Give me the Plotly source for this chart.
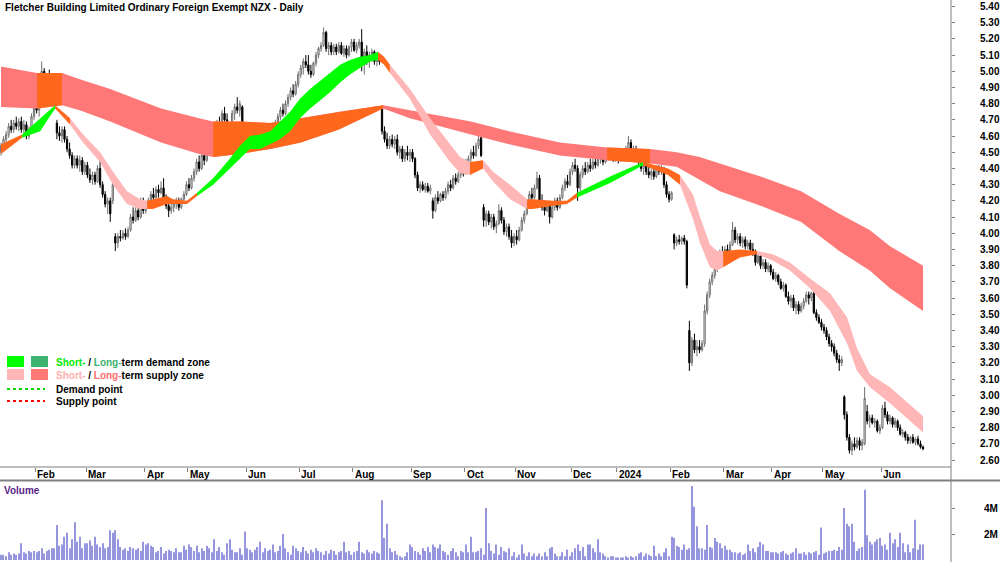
import plotly.graph_objects as go

title_text = "Fletcher Building Limited Ordinary Foreign Exempt NZX - Daily"
month_labels = ["Feb", "Mar", "Apr", "May", "Jun", "Jul", "Aug", "Sep", "Oct", "Nov", "Dec",
                "2024", "Feb", "Mar", "Apr", "May", "Jun"]
month_start = [14, 34, 57, 74, 97, 118, 139, 162, 183, 203, 225, 243, 264, 285, 304, 324, 347]
price_ticks = [round(2.6 + 0.1 * k, 2) for k in range(29)]
vol_ticks = [2, 4]
vol_tick_text = ["2M", "4M"]

opens = [
 4.50,4.54,4.58,4.61,4.66,4.64,4.68,4.66,4.69,4.64, 4.67,4.60,4.64,4.72,4.84,4.76,4.84,5.00,4.88,4.95,
 4.90,4.96,4.68,4.62,4.60,4.64,4.58,4.52,4.48,4.42, 4.46,4.42,4.45,4.38,4.42,4.36,4.33,4.36,4.32,4.40,
 4.30,4.24,4.18,4.20,4.20,3.98,3.94,3.98,3.97,4.00, 3.98,4.02,4.10,4.08,4.14,4.10,4.20,4.14,4.18,4.20,
 4.24,4.22,4.27,4.25,4.28,4.22,4.17,4.14,4.16,4.18, 4.20,4.16,4.21,4.24,4.30,4.28,4.34,4.38,4.44,4.40,
 4.48,4.45,4.53,4.60,4.57,4.64,4.68,4.66,4.74,4.70, 4.58,4.64,4.74,4.78,4.76,4.78,4.64,4.60,4.63,4.58,
 4.62,4.60,4.57,4.54,4.58,4.53,4.62,4.65,4.62,4.68, 4.72,4.76,4.74,4.80,4.84,4.88,4.86,4.92,4.98,5.02,
 5.06,5.04,5.00,4.98,5.05,5.10,5.14,5.16,5.24,5.14, 5.16,5.12,5.15,5.12,5.16,5.11,5.14,5.10,5.15,5.18,
 5.13,5.16,5.18,5.04,5.12,5.06,5.10,5.12,5.06,5.08, 4.78,4.63,4.58,4.54,4.58,4.55,4.58,4.50,4.52,4.46,
 4.50,4.48,4.50,4.46,4.36,4.28,4.30,4.27,4.29,4.26, 4.20,4.14,4.22,4.20,4.24,4.22,4.26,4.30,4.28,4.34,
 4.32,4.36,4.40,4.37,4.44,4.46,4.50,4.48,4.54,4.59, 4.16,4.08,4.12,4.07,4.10,4.04,4.06,4.14,4.08,4.01,
 4.04,3.98,3.94,3.98,3.96,4.02,4.08,4.12,4.18,4.24, 4.22,4.28,4.34,4.20,4.16,4.14,4.18,4.10,4.16,4.20,
 4.16,4.22,4.28,4.32,4.30,4.38,4.42,4.40,4.28,4.36, 4.40,4.38,4.42,4.40,4.44,4.42,4.46,4.48,4.44,4.48,
 4.46,4.50,4.46,4.48,4.45,4.49,4.47,4.52,4.56,4.50, 4.52,4.48,4.44,4.40,4.42,4.38,4.36,4.38,4.35,4.40,
 4.38,4.40,4.30,4.24,4.21,3.99,3.94,3.96,3.95,3.97, 3.95,3.40,3.20,3.34,3.28,3.30,3.28,3.32,3.52,3.62,
 3.70,3.74,3.78,3.84,3.88,3.86,3.90,3.88,3.93,4.02, 3.96,3.98,3.94,3.96,3.92,3.94,3.90,3.88,3.82,3.86,
 3.80,3.82,3.78,3.80,3.76,3.72,3.74,3.70,3.66,3.68, 3.61,3.58,3.60,3.54,3.56,3.52,3.55,3.58,3.62,3.60,
 3.63,3.51,3.48,3.45,3.42,3.40,3.36,3.32,3.30,3.26, 3.22,3.20,2.99,2.88,2.74,2.66,2.70,2.68,2.72,2.69,
 2.70,2.90,2.84,2.86,2.83,2.84,2.78,2.80,2.92,2.88, 2.84,2.86,2.82,2.84,2.80,2.76,2.77,2.74,2.72,2.74,
 2.71,2.73,2.70,2.68]

highs = [
 4.56,4.60,4.63,4.68,4.70,4.70,4.72,4.71,4.72,4.70, 4.69,4.66,4.74,4.80,4.86,4.84,5.06,5.02,4.98,5.01,
 4.98,4.98,4.70,4.66,4.66,4.66,4.60,4.56,4.50,4.48, 4.48,4.48,4.47,4.44,4.44,4.40,4.38,4.38,4.42,4.48,
 4.32,4.26,4.22,4.22,4.35,4.00,4.00,4.02,4.02,4.03, 4.04,4.12,4.16,4.16,4.18,4.22,4.22,4.20,4.22,4.26,
 4.28,4.29,4.30,4.32,4.34,4.24,4.20,4.19,4.20,4.22, 4.22,4.22,4.26,4.32,4.34,4.36,4.40,4.46,4.48,4.50,
 4.52,4.55,4.62,4.64,4.66,4.70,4.72,4.76,4.78,4.74, 4.66,4.76,4.80,4.84,4.82,4.79,4.68,4.66,4.66,4.64,
 4.66,4.64,4.60,4.60,4.60,4.64,4.67,4.68,4.70,4.74, 4.78,4.80,4.82,4.86,4.90,4.92,4.94,5.00,5.04,5.08,
 5.10,5.10,5.04,5.06,5.12,5.15,5.18,5.27,5.25,5.18, 5.18,5.17,5.17,5.18,5.18,5.16,5.16,5.16,5.20,5.20,
 5.18,5.20,5.26,5.14,5.16,5.12,5.14,5.13,5.10,5.10, 4.79,4.66,4.62,4.60,4.61,4.60,4.61,4.54,4.54,4.52,
 4.54,4.52,4.52,4.47,4.38,4.32,4.32,4.31,4.31,4.30, 4.22,4.24,4.26,4.25,4.26,4.28,4.32,4.33,4.36,4.37,
 4.38,4.42,4.44,4.46,4.48,4.52,4.54,4.56,4.60,4.60, 4.18,4.14,4.14,4.12,4.12,4.08,4.18,4.16,4.10,4.06,
 4.06,4.02,4.00,4.02,4.04,4.10,4.14,4.20,4.26,4.28, 4.30,4.38,4.36,4.24,4.20,4.20,4.20,4.18,4.22,4.22,
 4.24,4.30,4.34,4.36,4.40,4.44,4.46,4.42,4.38,4.42, 4.44,4.44,4.46,4.46,4.48,4.48,4.50,4.50,4.50,4.52,
 4.52,4.52,4.50,4.50,4.50,4.52,4.54,4.60,4.58,4.54, 4.54,4.50,4.46,4.44,4.44,4.42,4.40,4.40,4.42,4.42,
 4.42,4.41,4.32,4.26,4.26,4.00,3.98,3.99,3.98,3.99, 3.96,3.46,3.36,3.38,3.34,3.34,3.34,3.56,3.64,3.72,
 3.76,3.80,3.86,3.90,3.92,3.92,3.93,3.95,4.07,4.04, 4.00,4.00,3.98,3.98,3.96,3.96,3.94,3.90,3.88,3.88,
 3.84,3.84,3.82,3.81,3.78,3.76,3.75,3.72,3.70,3.69, 3.64,3.62,3.62,3.58,3.58,3.57,3.60,3.64,3.64,3.64,
 3.64,3.53,3.50,3.47,3.44,3.42,3.38,3.34,3.32,3.28, 3.25,3.24,3.00,2.90,2.76,2.72,2.74,2.74,2.74,2.73,
 3.05,2.94,2.88,2.88,2.86,2.85,2.82,2.94,2.96,2.90, 2.88,2.87,2.86,2.85,2.82,2.79,2.78,2.76,2.75,2.76,
 2.74,2.75,2.72,2.69]

lows = [
 4.48,4.52,4.55,4.59,4.62,4.62,4.64,4.63,4.62,4.61, 4.58,4.58,4.63,4.70,4.74,4.72,4.82,4.85,4.80,4.88,
 4.88,4.92,4.58,4.57,4.56,4.56,4.50,4.46,4.40,4.40, 4.40,4.38,4.36,4.36,4.34,4.31,4.30,4.30,4.31,4.28,
 4.22,4.16,4.12,4.07,4.18,3.89,3.91,3.95,3.96,3.96, 3.97,4.01,4.06,4.07,4.08,4.09,4.12,4.12,4.15,4.18,
 4.20,4.21,4.22,4.24,4.20,4.15,4.10,4.12,4.13,4.15, 4.14,4.15,4.19,4.23,4.26,4.27,4.32,4.36,4.38,4.39,
 4.42,4.44,4.52,4.54,4.56,4.62,4.63,4.65,4.68,4.56, 4.56,4.63,4.70,4.74,4.72,4.62,4.58,4.57,4.56,4.56,
 4.58,4.55,4.52,4.52,4.52,4.52,4.58,4.60,4.61,4.66, 4.70,4.72,4.73,4.78,4.82,4.84,4.85,4.90,4.96,4.98,
 5.02,4.98,4.96,4.97,5.03,5.08,5.12,5.15,5.12,5.10, 5.10,5.10,5.10,5.11,5.10,5.09,5.08,5.09,5.12,5.12,
 5.11,5.14,5.00,4.98,5.04,5.02,5.06,5.04,5.03,5.04, 4.61,4.56,4.52,4.52,4.53,4.52,4.48,4.46,4.44,4.44,
 4.45,4.44,4.44,4.34,4.26,4.25,4.26,4.25,4.25,4.24, 4.09,4.13,4.18,4.19,4.20,4.21,4.24,4.26,4.27,4.30,
 4.31,4.34,4.35,4.36,4.40,4.44,4.46,4.47,4.52,4.47, 4.04,4.04,4.05,4.03,4.02,4.00,4.05,4.06,3.99,3.98,
 3.96,3.91,3.92,3.93,3.95,4.01,4.06,4.11,4.16,4.20, 4.21,4.27,4.18,4.14,4.11,4.13,4.06,4.09,4.14,4.14,
 4.15,4.21,4.26,4.28,4.29,4.36,4.38,4.20,4.26,4.34, 4.36,4.37,4.38,4.39,4.40,4.41,4.43,4.42,4.43,4.45,
 4.45,4.44,4.44,4.43,4.44,4.45,4.46,4.50,4.48,4.46, 4.46,4.42,4.38,4.36,4.36,4.34,4.33,4.33,4.34,4.36,
 4.36,4.28,4.22,4.19,4.20,3.90,3.92,3.93,3.93,3.93, 3.66,3.15,3.18,3.26,3.24,3.26,3.27,3.30,3.50,3.60,
 3.68,3.72,3.76,3.82,3.84,3.85,3.86,3.87,3.92,3.94, 3.93,3.92,3.91,3.90,3.90,3.88,3.86,3.80,3.81,3.78,
 3.78,3.76,3.76,3.74,3.71,3.70,3.68,3.65,3.64,3.60, 3.56,3.54,3.52,3.50,3.50,3.51,3.53,3.57,3.56,3.58,
 3.50,3.46,3.44,3.40,3.38,3.34,3.30,3.27,3.24,3.20, 3.15,3.18,2.85,2.72,2.64,2.63,2.66,2.67,2.66,2.66,
 2.69,2.82,2.80,2.82,2.80,2.77,2.76,2.79,2.86,2.82, 2.82,2.80,2.80,2.78,2.75,2.74,2.72,2.70,2.70,2.70,
 2.69,2.69,2.67,2.66]

closes = [
 4.54,4.58,4.61,4.66,4.64,4.68,4.66,4.69,4.64,4.67, 4.60,4.64,4.72,4.78,4.76,4.82,5.00,4.88,4.95,4.90,
 4.96,4.95,4.62,4.60,4.64,4.58,4.52,4.48,4.42,4.46, 4.42,4.45,4.38,4.42,4.36,4.33,4.36,4.32,4.40,4.30,
 4.24,4.18,4.20,4.12,4.30,3.94,3.98,3.97,4.00,3.98, 4.02,4.10,4.08,4.14,4.10,4.20,4.14,4.18,4.20,4.24,
 4.22,4.27,4.25,4.28,4.22,4.17,4.14,4.16,4.18,4.20, 4.16,4.21,4.24,4.30,4.28,4.34,4.38,4.44,4.40,4.48,
 4.45,4.53,4.60,4.57,4.64,4.68,4.66,4.74,4.70,4.58, 4.64,4.74,4.78,4.76,4.80,4.64,4.60,4.63,4.58,4.62,
 4.60,4.57,4.54,4.58,4.53,4.62,4.65,4.62,4.68,4.72, 4.76,4.74,4.80,4.84,4.88,4.86,4.92,4.98,5.02,5.06,
 5.04,5.00,4.98,5.05,5.10,5.14,5.16,5.24,5.14,5.16, 5.12,5.15,5.12,5.16,5.11,5.14,5.10,5.15,5.18,5.13,
 5.16,5.18,5.04,5.12,5.06,5.10,5.12,5.06,5.08,5.06, 4.63,4.58,4.54,4.58,4.55,4.58,4.50,4.52,4.46,4.50,
 4.48,4.50,4.46,4.36,4.28,4.30,4.27,4.29,4.26,4.28, 4.14,4.22,4.20,4.24,4.22,4.26,4.30,4.28,4.34,4.32,
 4.36,4.40,4.37,4.44,4.46,4.50,4.48,4.54,4.58,4.48, 4.08,4.12,4.07,4.10,4.04,4.06,4.14,4.08,4.01,4.04,
 3.98,3.94,3.98,3.96,4.02,4.08,4.12,4.18,4.24,4.22, 4.28,4.34,4.20,4.16,4.14,4.18,4.10,4.16,4.20,4.16,
 4.22,4.28,4.32,4.30,4.38,4.42,4.40,4.28,4.36,4.40, 4.38,4.42,4.40,4.44,4.42,4.46,4.48,4.44,4.48,4.46,
 4.50,4.46,4.48,4.45,4.49,4.47,4.52,4.56,4.50,4.52, 4.48,4.44,4.40,4.42,4.38,4.36,4.38,4.35,4.40,4.38,
 4.40,4.30,4.24,4.21,4.25,3.94,3.96,3.95,3.97,3.95, 3.68,3.20,3.34,3.28,3.30,3.28,3.32,3.52,3.62,3.70,
 3.74,3.78,3.84,3.88,3.86,3.90,3.88,3.93,4.02,3.96, 3.98,3.94,3.96,3.92,3.94,3.90,3.88,3.82,3.86,3.80,
 3.82,3.78,3.80,3.76,3.72,3.74,3.70,3.66,3.68,3.61, 3.58,3.60,3.54,3.56,3.52,3.55,3.58,3.62,3.60,3.63,
 3.51,3.48,3.45,3.42,3.40,3.36,3.32,3.30,3.26,3.22, 3.20,3.22,2.88,2.74,2.66,2.70,2.68,2.72,2.69,2.71,
 2.98,2.84,2.86,2.83,2.84,2.78,2.80,2.92,2.88,2.84, 2.86,2.82,2.84,2.80,2.76,2.77,2.74,2.72,2.74,2.71,
 2.73,2.70,2.68,2.67]

volume_m = [
 0.4,0.4,0.3,0.6,0.4,0.5,0.4,0.5,1.3,0.6, 0.5,0.7,0.6,0.7,0.6,0.7,0.9,0.5,0.7,0.8,
 0.9,0.9,2.7,1.1,1.2,1.8,2.1,0.9,1.6,2.9, 1.4,1.8,0.9,1.3,1.3,1.5,1.1,1.8,1.2,1.0,
 1.3,0.9,1.0,2.3,2.1,2.3,1.6,1.0,0.8,0.9, 0.7,1.0,0.9,0.8,0.9,0.7,1.4,1.2,1.3,1.1,
 1.0,0.6,0.7,1.0,0.5,0.7,0.8,0.7,0.6,0.9, 0.6,0.6,1.1,0.8,1.2,1.0,0.7,1.1,0.6,0.9,
 0.7,1.1,0.9,0.6,1.6,0.7,1.0,0.6,0.4,1.3, 1.6,0.8,0.6,0.6,0.9,0.4,2.2,0.9,0.8,0.6,
 0.8,1.0,1.4,0.6,0.9,0.7,0.8,1.2,0.6,0.7, 1.1,2.0,0.9,0.6,0.4,1.1,0.9,0.7,0.6,1.0,
 0.7,0.5,0.8,0.6,0.9,0.7,0.6,0.4,0.7,0.5, 0.8,0.7,0.4,0.6,0.7,1.4,0.6,0.7,0.4,0.6,
 0.7,1.4,0.6,0.5,0.8,0.6,0.5,0.7,0.6,0.5, 4.6,1.7,2.8,0.9,0.6,0.7,0.4,0.3,0.2,0.3,
 0.6,1.2,1.0,0.7,0.6,0.4,0.9,0.7,1.0,0.6, 1.2,1.0,0.9,1.2,0.7,0.6,0.4,0.7,0.9,0.6,
 0.3,0.7,0.6,1.2,0.6,1.8,0.6,0.6,0.7,0.9, 0.4,4.0,1.3,0.7,0.5,1.2,0.4,1.0,0.7,0.6,
 0.9,0.3,0.6,0.2,0.4,1.2,0.5,0.3,0.6,0.3, 0.5,0.3,0.5,0.3,0.6,0.3,0.9,1.0,0.5,0.3,
 0.3,0.6,0.3,0.8,0.3,0.6,0.9,1.2,0.7,1.0, 0.3,1.2,1.2,0.9,0.6,1.6,0.6,0.5,0.3,0.2,
 0.3,0.3,0.2,0.2,0.2,0.2,0.3,0.2,0.3,0.2, 0.3,0.5,0.6,0.3,0.5,0.4,0.3,1.1,0.3,0.5,
 0.3,0.6,0.9,0.3,1.8,1.7,1.1,1.0,0.8,1.2, 0.8,0.9,5.7,4.1,2.6,0.9,0.9,0.8,2.7,1.0,
 0.9,1.7,1.4,1.3,0.9,1.1,0.8,0.8,0.6,0.6, 0.5,0.6,0.4,0.5,1.2,0.7,0.9,0.6,1.0,1.4,
 1.2,0.7,0.7,0.6,0.6,0.6,0.5,0.6,0.7,0.5, 0.4,0.5,0.6,0.9,0.5,0.5,0.6,0.4,0.6,0.5,
 0.6,0.7,0.4,2.5,0.5,0.6,0.7,0.7,0.8,0.7, 1.0,0.8,4.0,2.8,2.6,2.8,1.4,0.7,0.9,1.0,
 5.4,1.9,1.4,1.2,1.4,1.6,1.7,1.1,1.2,0.8, 2.1,1.3,1.6,1.0,2.1,1.3,0.6,1.2,0.6,0.9,
 3.1,0.8,1.2,1.2]

# Long-term zone band (bar index, upper price, lower price)
lt_x = [0, 14.2, 24, 31, 43, 63, 78, 83.5, 94, 106, 118, 133, 150.4, 161, 185, 200, 220,
        238.6, 255.5, 266, 275, 283, 299, 315, 330, 342, 350, 363]
lt_top = [5.03, 4.99, 4.99, 4.95, 4.89, 4.77, 4.71, 4.69, 4.69, 4.68, 4.71, 4.75, 4.79, 4.76,
          4.69, 4.63, 4.56, 4.53, 4.52, 4.50, 4.47, 4.43, 4.35, 4.26, 4.12, 4.02, 3.92, 3.80]
lt_bot = [4.78, 4.77, 4.79, 4.76, 4.69, 4.56, 4.49, 4.47, 4.49, 4.52, 4.56, 4.64, 4.77, 4.71,
          4.61, 4.55, 4.48, 4.45, 4.43, 4.41, 4.33, 4.26, 4.17, 4.07, 3.89, 3.77, 3.66, 3.52]
lt_seg_start = [0, 14.2, 83.5, 238.6]
lt_seg_end = [363, 24, 150.4, 255.5]
lt_seg_kind = ["supply", "overlap", "overlap", "overlap"]

# Short-term zone band
st_x = [0, 8.3, 15.4, 21.3, 27.2, 32.3, 39, 44.1, 49.6, 54.7, 57.5, 59.8, 65.4, 67.7, 73.2,
        77.2, 83.5, 89, 94.1, 98, 102, 106, 109.8, 113.8, 117.7, 121.7, 125.6, 129.5, 133.5,
        137.4, 141.3, 145.3, 148.4, 150.8, 153.1, 161, 168.9, 176.8, 180.7, 184.6, 189.8,
        193.7, 200.4, 207.1, 209.4, 217.3, 222.8, 226.8, 239.8, 252.8, 259.4, 262.6, 267.3,
        272.4, 275.2, 279.1, 281.9, 284.3, 290.9, 297.6, 303.9, 310.6, 318.5, 326.4, 333.1,
        337, 342.1, 350, 363]
st_top = [4.55, 4.61, 4.71, 4.79, 4.71, 4.61, 4.50, 4.38, 4.26, 4.21, 4.20, 4.21, 4.23, 4.21,
          4.20, 4.25, 4.34, 4.44, 4.54, 4.60, 4.61, 4.63, 4.69, 4.75, 4.83, 4.89, 4.94, 4.99,
          5.04, 5.07, 5.09, 5.10, 5.12, 5.09, 5.04, 4.89, 4.71, 4.55, 4.47, 4.44, 4.45, 4.38,
          4.30, 4.21, 4.21, 4.20, 4.20, 4.25, 4.35, 4.44, 4.41, 4.40, 4.36, 4.24, 4.10, 3.93,
          3.89, 3.89, 3.90, 3.89, 3.87, 3.82, 3.72, 3.63, 3.48, 3.29, 3.13, 3.05, 2.87]
st_bot = [4.49, 4.59, 4.63, 4.77, 4.67, 4.56, 4.44, 4.30, 4.18, 4.15, 4.15, 4.15, 4.18, 4.18,
          4.18, 4.23, 4.30, 4.38, 4.46, 4.52, 4.52, 4.55, 4.58, 4.63, 4.71, 4.77, 4.82, 4.87,
          4.93, 4.98, 5.02, 5.06, 5.07, 5.04, 4.99, 4.83, 4.61, 4.44, 4.37, 4.36, 4.40, 4.32,
          4.21, 4.15, 4.15, 4.17, 4.18, 4.22, 4.31, 4.42, 4.38, 4.36, 4.30, 4.09, 3.94, 3.79,
          3.77, 3.79, 3.85, 3.87, 3.83, 3.77, 3.66, 3.52, 3.32, 3.15, 3.05, 2.95, 2.77]
st_seg_start = [0, 8.3, 21.3, 27.2, 57.5, 77.2, 148.4, 153.1, 184.6, 189.8, 207.1, 226.8, 252.8, 267.3, 284.3, 297.6]
st_seg_end = [8.3, 21.3, 27.2, 57.5, 77.2, 148.4, 153.1, 184.6, 189.8, 207.1, 226.8, 252.8, 267.3, 284.3, 297.6, 363]
st_seg_kind = ["overlap", "demand", "overlap", "supply", "overlap", "demand", "overlap", "supply",
               "overlap", "supply", "overlap", "demand", "overlap", "supply", "overlap", "supply"]

C_ST_DEMAND = "rgb(0,255,0)"
C_LT_DEMAND = "rgb(60,179,113)"
C_ST_SUPPLY = "rgb(255,182,182)"
C_LT_SUPPLY = "rgb(255,120,120)"
C_OVERLAP = "rgb(255,104,28)"
FONT = "Liberation Sans, Arial, sans-serif"

st_colors = {"demand": C_ST_DEMAND, "supply": C_ST_SUPPLY, "overlap": C_OVERLAP}
lt_colors = {"demand": C_LT_DEMAND, "supply": C_LT_SUPPLY, "overlap": C_OVERLAP}

W, H = 1000, 562
PLOT_W = 951


def px_x(p):
    return p / PLOT_W


def px_y(p):
    return (H - p) / H


fig = go.Figure()


def add_band(xs, tops, bots, starts, ends, kinds, colors):
    for a, b, k in zip(starts, ends, kinds):
        idx = [j for j, v in enumerate(xs) if a - 1e-6 <= v <= b + 1e-6]
        sx = [xs[j] for j in idx]
        st = [tops[j] for j in idx]
        sb = [bots[j] for j in idx]
        fig.add_trace(go.Scatter(
            x=sx + sx[::-1], y=st + sb[::-1], mode="lines", fill="toself",
            fillcolor=colors[k], line=dict(width=0, color=colors[k]),
            hoverinfo="skip", showlegend=False, xaxis="x", yaxis="y"))


add_band(lt_x, lt_top, lt_bot, lt_seg_start, lt_seg_end, lt_seg_kind, lt_colors)
add_band(st_x, st_top, st_bot, st_seg_start, st_seg_end, st_seg_kind, st_colors)

bars = list(range(len(closes)))
fig.add_trace(go.Candlestick(
    x=bars, open=opens, high=highs, low=lows, close=closes,
    increasing=dict(line=dict(color="rgb(110,110,110)", width=1), fillcolor="white"),
    decreasing=dict(line=dict(color="black", width=1), fillcolor="black"),
    whiskerwidth=0, showlegend=False, xaxis="x", yaxis="y", hoverinfo="skip"))

fig.add_trace(go.Bar(
    x=bars, y=volume_m, marker=dict(color="rgb(150,150,222)", line=dict(width=0)),
    width=0.45, showlegend=False, xaxis="x", yaxis="y2", hoverinfo="skip"))

tickfont = dict(family=FONT, size=10, color="black", weight="bold")

fig.update_layout(
    width=W, height=H, margin=dict(l=0, r=W - PLOT_W, t=0, b=0),
    paper_bgcolor="white", plot_bgcolor="white", showlegend=False,
    xaxis=dict(domain=[0, 1], range=[-0.4, 374], showgrid=False, zeroline=False,
               showline=False, tickvals=[m - 0.5 for m in month_start], ticks="outside",
               ticklen=4, tickcolor="rgb(128,128,128)", showticklabels=False,
               rangeslider=dict(visible=False), anchor="y", fixedrange=True),
    yaxis=dict(domain=[px_y(467), 1], range=[2.557, 5.440], side="right",
               showgrid=False, zeroline=False, showline=False,
               tickvals=price_ticks, ticktext=[f"{v:.2f}" for v in price_ticks],
               ticks="outside", ticklen=3, tickcolor="rgb(128,128,128)",
               tickfont=tickfont, ticklabelstandoff=23, automargin=False,
               ticklabeloverflow="allow"),
    yaxis2=dict(domain=[0, px_y(481)], range=[-0.15, 6.08], side="right",
                showgrid=False, zeroline=False, showline=False, anchor="x",
                tickvals=vol_ticks, ticktext=vol_tick_text,
                ticks="outside", ticklen=3, tickcolor="rgb(128,128,128)",
                tickfont=tickfont, ticklabelstandoff=27, automargin=False,
                ticklabeloverflow="allow"),
)

grey = "rgb(128,128,128)"
shapes = [
    dict(type="line", xref="paper", yref="paper", x0=1, x1=1, y0=0, y1=1,
         line=dict(color=grey, width=1)),
    dict(type="line", xref="paper", yref="paper", x0=0, x1=1, y0=px_y(467), y1=px_y(467),
         line=dict(color=grey, width=1.2)),
    dict(type="line", xref="paper", yref="paper", x0=0, x1=px_x(W), y0=px_y(480.5), y1=px_y(480.5),
         line=dict(color=grey, width=2)),
]
# legend swatches
for (x0, y0, col) in [(7, 356, C_ST_DEMAND), (31, 356, C_LT_DEMAND),
                      (7, 369, C_ST_SUPPLY), (31, 369, C_LT_SUPPLY)]:
    shapes.append(dict(type="rect", xref="paper", yref="paper",
                       x0=px_x(x0), x1=px_x(x0 + 17), y0=px_y(y0 + 11), y1=px_y(y0),
                       fillcolor=col, line=dict(width=0)))
shapes.append(dict(type="line", xref="paper", yref="paper", x0=px_x(7), x1=px_x(45),
                   y0=px_y(389), y1=px_y(389), line=dict(color="rgb(0,220,0)", width=2, dash="dot")))
shapes.append(dict(type="line", xref="paper", yref="paper", x0=px_x(7), x1=px_x(45),
                   y0=px_y(401), y1=px_y(401), line=dict(color="rgb(255,0,0)", width=2, dash="dot")))
fig.update_layout(shapes=shapes)

ann = []
ann.append(dict(text="<b>" + title_text + "</b>", xref="paper", yref="paper",
                x=px_x(3), y=px_y(7.5), xanchor="left", yanchor="middle", showarrow=False,
                font=dict(family=FONT, size=10, color="black")))
ann.append(dict(text="<b>Volume</b>", xref="paper", yref="paper",
                x=px_x(2), y=px_y(490), xanchor="left", yanchor="middle", showarrow=False,
                font=dict(family=FONT, size=10, color="rgb(90,30,140)")))
for lab, m in zip(month_labels, month_start):
    ann.append(dict(text="<b>" + lab + "</b>", xref="x", yref="paper", x=m - 0.5,
                    y=px_y(474), xanchor="left", yanchor="middle", showarrow=False, xshift=0,
                    font=dict(family=FONT, size=10, color="black")))
legend_rows = [
    (362, "<b><span style='color:rgb(0,235,0)'>Short-</span> / <span style='color:rgb(60,179,113)'>Long-</span>term demand zone</b>"),
    (375, "<b><span style='color:rgb(255,175,175)'>Short-</span> / <span style='color:rgb(255,110,110)'>Long-</span>term supply zone</b>"),
    (389, "<b>Demand point</b>"),
    (401, "<b>Supply point</b>"),
]
for yy, txt in legend_rows:
    ann.append(dict(text=txt, xref="paper", yref="paper", x=px_x(54), y=px_y(yy),
                    xanchor="left", yanchor="middle", showarrow=False,
                    font=dict(family=FONT, size=10, color="black")))
fig.update_layout(annotations=ann)

fig.write_html("out.html")
